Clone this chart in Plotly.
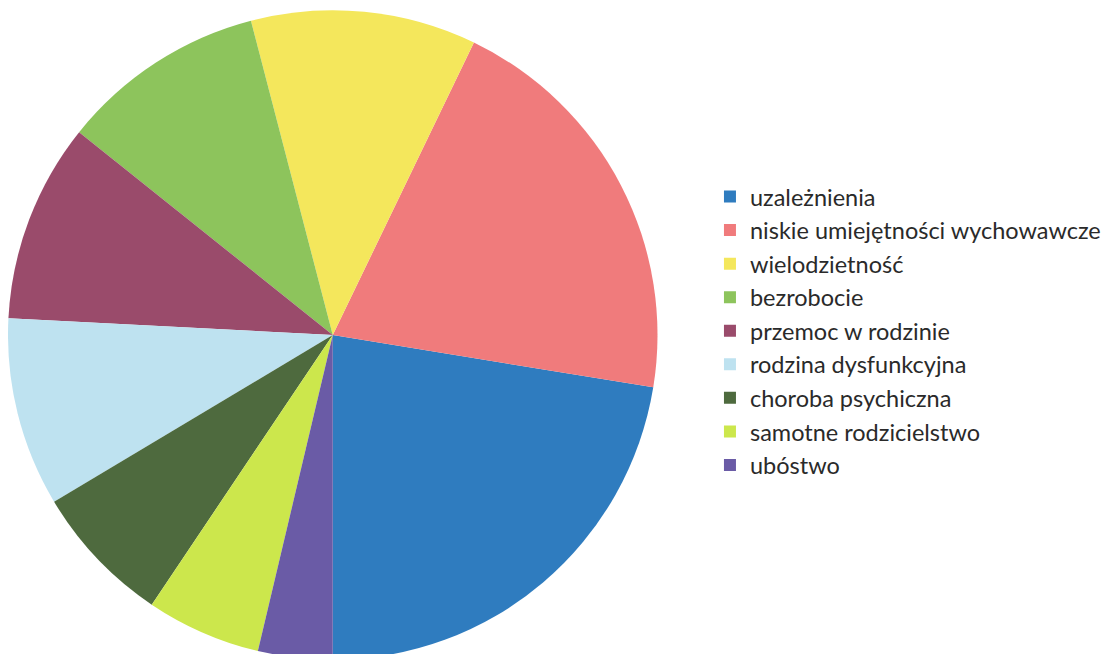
import plotly.graph_objects as go

labels = [
    "uzależnienia",
    "niskie umiejętności wychowawcze",
    "wielodzietność",
    "bezrobocie",
    "przemoc w rodzinie",
    "rodzina dysfunkcyjna",
    "choroba psychiczna",
    "samotne rodzicielstwo",
    "ubóstwo",
]
values = [22.4, 20.4, 11.2, 10.2, 9.9, 9.4, 7.0, 5.7, 3.7]
colors = ["#2F7CBF", "#F07B7C", "#F4E75C", "#8DC45C", "#9A4B6B",
          "#BEE2F0", "#4E6A3E", "#CCE74C", "#6A5BA6"]

# first slice starts at 6 o'clock and runs counterclockwise; plotly's
# counterclockwise rotation marks the end of the first slice
rotation = 180 - values[0] / sum(values) * 360

fig = go.Figure(go.Pie(
    labels=labels,
    values=values,
    sort=False,
    direction="counterclockwise",
    rotation=rotation,
    textinfo="none",
    hoverinfo="label+percent",
    marker=dict(colors=colors, line=dict(width=0)),
    domain=dict(x=[0.0, 0.582], y=[0.0, 1.0]),
))

fig.update_layout(
    width=1116,
    height=654,
    margin=dict(l=0, r=0, t=0, b=0),
    paper_bgcolor="white",
    plot_bgcolor="white",
    showlegend=True,
    legend=dict(
        x=0.629, y=0.745, xanchor="left", yanchor="top",
        font=dict(family="Lato", size=23.5, color="#2a2a2a"),
        bgcolor="rgba(0,0,0,0)",
        itemclick=False,
    ),
)

fig.write_html("out.html")
